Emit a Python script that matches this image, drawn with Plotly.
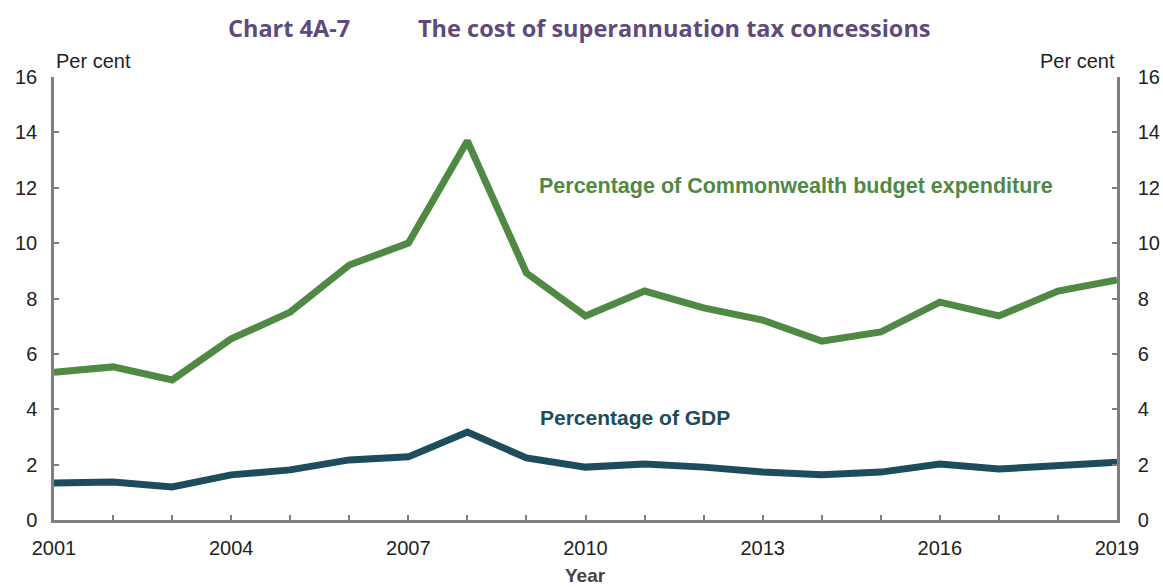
import plotly.graph_objects as go

# Cost of superannuation tax concessions, per cent
years = list(range(2001, 2020))
budget_share = [5.34, 5.53, 5.06, 6.54, 7.51, 9.21, 10.0, 13.69, 8.92, 7.37,
                8.27, 7.66, 7.22, 6.46, 6.79, 7.87, 7.37, 8.27, 8.67]
gdp_share = [1.34, 1.37, 1.19, 1.63, 1.81, 2.17, 2.28, 3.18, 2.24, 1.91,
             2.02, 1.91, 1.73, 1.63, 1.73, 2.02, 1.84, 1.99, 2.09]
x_tick_labels = [str(y) if (y - 2001) % 3 == 0 else "" for y in years]
y_ticks = [0, 2, 4, 6, 8, 10, 12, 14, 16]

GREEN = "#508944"
TEAL = "#1d4d5c"
PURPLE = "#5f4a7c"
AXIS = "#7f7f7f"
TEXT = "#222222"
FONT = "Liberation Sans, Arial, sans-serif"
TITLE_FONT = "Open Sans, sans-serif"

W, H = 1163, 587
L, R, T, B = 54, 46, 77, 67
PW, PH = W - L - R, H - T - B


def px_to_paper(px, py):
    """Convert page pixel coordinates to paper coordinates."""
    return (px - L) / PW, (H - B - py) / PH


fig = go.Figure()
fig.add_trace(go.Scatter(x=years, y=budget_share, mode="lines",
                         line=dict(color=GREEN, width=7), showlegend=False))
fig.add_trace(go.Scatter(x=years, y=gdp_share, mode="lines",
                         line=dict(color=TEAL, width=7), showlegend=False))
# invisible trace to anchor the right-hand axis
fig.add_trace(go.Scatter(x=years, y=gdp_share, yaxis="y2", mode="lines",
                         line=dict(width=0), opacity=0, hoverinfo="skip",
                         showlegend=False))

yaxis_common = dict(range=[0, 16], tickvals=y_ticks, showgrid=False,
                    zeroline=False, showline=True, linecolor=AXIS, linewidth=2.5,
                    ticks="inside", ticklen=5, tickwidth=2, tickcolor=AXIS,
                    tickfont=dict(family=FONT, size=20, color=TEXT),
                    automargin=False, fixedrange=True)

fig.update_layout(
    width=W, height=H,
    margin=dict(l=L, r=R, t=T, b=B),
    paper_bgcolor="white", plot_bgcolor="white",
    xaxis=dict(range=[2001, 2019], tickvals=years, ticktext=x_tick_labels,
               showgrid=False, zeroline=False, showline=True, linecolor=AXIS,
               linewidth=2.5, ticks="inside", ticklen=5, tickwidth=2,
               tickcolor=AXIS, tickangle=0, automargin=False,
               ticklabelstandoff=8,
               tickfont=dict(family=FONT, size=20, color=TEXT)),
    yaxis=dict(**yaxis_common, side="left", ticklabelstandoff=10),
    yaxis2=dict(**yaxis_common, side="right", overlaying="y",
                ticklabelstandoff=14),
)

page_labels = [
    dict(text="<b>Chart 4A-7</b>", x=289, y=28, xanchor="center",
         font=dict(family=TITLE_FONT, size=23.5, color=PURPLE)),
    dict(text="<b>The cost of superannuation tax concessions</b>", x=416, y=28,
         xanchor="left",
         font=dict(family=TITLE_FONT, size=23.5, color=PURPLE)),
    dict(text="Per cent", x=54, y=61, xanchor="left",
         font=dict(family=FONT, size=20, color=TEXT)),
    dict(text="Per cent", x=1117, y=61, xanchor="right",
         font=dict(family=FONT, size=20, color=TEXT)),
    dict(text="<b>Year</b>", x=585, y=575, xanchor="center",
         font=dict(family=FONT, size=19, color="#444444")),
]
for a in page_labels:
    px, py = px_to_paper(a["x"], a["y"])
    fig.add_annotation(xref="paper", yref="paper", showarrow=False,
                       x=px, y=py, text=a["text"], xanchor=a["xanchor"],
                       yanchor="middle", font=a["font"])

# series labels placed in data coordinates
fig.add_annotation(x=2009.18, y=12.05, xref="x", yref="y", showarrow=False,
                   xanchor="left", yanchor="middle",
                   text="<b>Percentage of Commonwealth budget expenditure</b>",
                   font=dict(family=FONT, size=21.5, color=GREEN))
fig.add_annotation(x=2009.2, y=3.7, xref="x", yref="y", showarrow=False,
                   xanchor="left", yanchor="middle",
                   text="<b>Percentage of GDP</b>",
                   font=dict(family=FONT, size=21, color=TEAL))

fig.write_html("out.html")
